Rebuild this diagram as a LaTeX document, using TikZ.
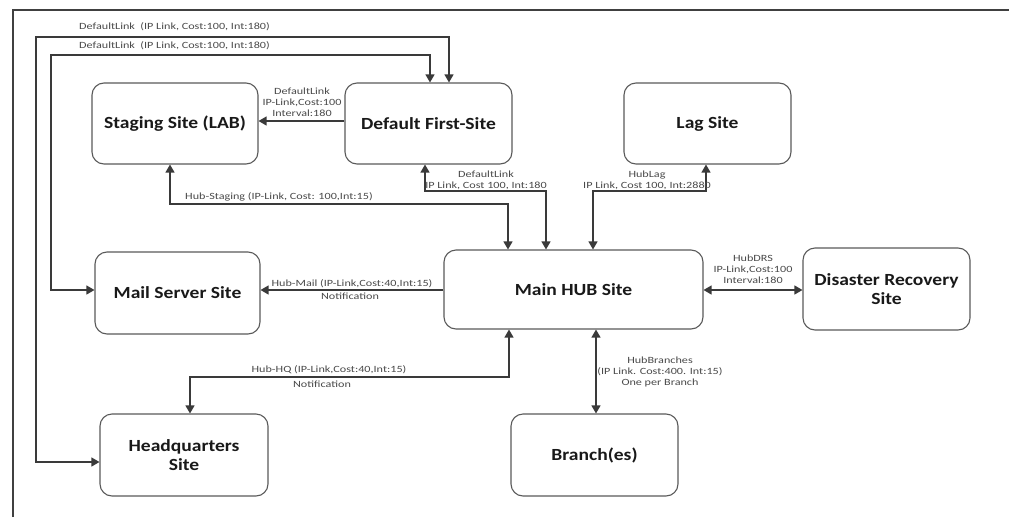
\documentclass[tikz,border=0pt]{standalone}
\usepackage{fontspec}
\setmainfont{Carlito}
\newfontfamily\boxfont[FakeStretch=1.15]{Carlito}
\newfontfamily\smallfont[FakeStretch=1.28]{Carlito}
\usetikzlibrary{arrows.meta}
\definecolor{linec}{HTML}{3A3A3A}
\definecolor{boxc}{HTML}{5A5A5A}
\definecolor{lblc}{HTML}{4A4A4A}
\definecolor{framec}{HTML}{404040}
\tikzset{
  site/.style={draw=boxc, line width=1.1pt, rounded corners=12pt, fill=white,
    minimum width=#1, align=center, font=\boxfont\fontsize{17}{19}\selectfont\bfseries, text=black!90},
  arr/.style={draw=linec, line width=1.2pt, -{Triangle[length=8pt,width=9pt]}},
  arrb/.style={draw=linec, line width=1.2pt, {Triangle[length=8pt,width=9pt]}-{Triangle[length=8pt,width=9pt]}},
  lbl/.style={font=\smallfont\fontsize{9.5}{11}\selectfont, text=lblc, inner sep=0pt, align=center},
}
\begin{document}
\begin{tikzpicture}[x={(1pt,0)}, y={(0,-1pt)}]
\useasboundingbox (0,0) rectangle (1009,517);
\fill[white] (0,0) rectangle (1009,517);
\draw[framec, line width=2pt] (13,517) -- (13,10) -- (1009,10);

\node[site=166pt, minimum height=81pt] (stg) at (175,123.5) {Staging Site (LAB)};
\node[site=167pt, minimum height=81pt] (dfs) at (428.5,123.5) {Default First-Site};
\node[site=167pt, minimum height=81pt] (lag) at (707.5,123.5) {Lag Site};
\node[site=259pt, minimum height=79pt] (hub) at (573.5,289.5) {Main HUB Site};
\node[site=165pt, minimum height=82pt] (mail) at (177.5,293) {Mail Server Site};
\node[site=167pt, minimum height=82pt] (drs) at (886.5,289) {Disaster Recovery\\Site};
\node[site=168pt, minimum height=82pt] (hq) at (184,455) {Headquarters\\Site};
\node[site=167pt, minimum height=82pt] (br) at (594.5,455) {Branch(es)};

% long default links
\draw[arrb] (hq.west |- 0,462) -| (36,37) -| (dfs.north -| 449,0);
\draw[arrb] (mail.west |- 0,290) -| (51,55) -| (dfs.north -| 430,0);
\node[lbl, anchor=west] (l1) at (79,27) {DefaultLink\ \ (IP Link, Cost:100, Int:180)};
\node[lbl, anchor=west] (l2) at (79,46) {DefaultLink\ \ (IP Link, Cost:100, Int:180)};

% default -> staging
\draw[arr] (dfs.west |- 0,121) -- (stg.east |- 0,121);
\node[lbl] (l3) at (302,102) {DefaultLink\\IP-Link,Cost:100\\Interval:180};

% hub - staging
\draw[arrb] (hub.north -| 508,0) |- (170,204) -- (stg.south -| 170,0);
\node[lbl, anchor=west] (l4) at (185,197) {Hub-Staging (IP-Link, Cost: 100,Int:15)};

% default - hub
\draw[arrb] (dfs.south -| 425,0) |- (546,191) -- (hub.north -| 546,0);
\node[lbl] (l5) at (486,180.5) {DefaultLink\\IP Link, Cost 100, Int:180};

% hub - lag
\draw[arrb] (hub.north -| 593,0) |- (706,191) -- (lag.south -| 706,0);
\node[lbl] (l6) at (647,180.5) {HubLag\\IP Link, Cost 100, Int:2880};

% hub - drs
\draw[arrb] (hub.east |- 0,290) -- (drs.west |- 0,290);
\node[lbl] (l7) at (753,269) {HubDRS\\IP-Link,Cost:100\\Interval:180};

% hub - mail
\draw[arr] (hub.west |- 0,290) -- (mail.east |- 0,290);
\node[lbl] (l8) at (352,284) {Hub-Mail (IP-Link,Cost:40,Int:15)};
\node[lbl] (l9) at (350,296.5) {Notification};

% hub - hq
\draw[arrb] (hub.south -| 509,0) |- (190,377) -- (hq.north -| 190,0);
\node[lbl] (l10) at (329,370) {Hub-HQ (IP-Link,Cost:40,Int:15)};
\node[lbl] (l11) at (322,384) {Notification};

% hub - branches
\draw[arrb] (hub.south -| 596,0) -- (br.north -| 596,0);
\node[lbl] (l12) at (660,372) {HubBranches\\(IP Link. Cost:400. Int:15)\\One per Branch};
\end{tikzpicture}
\end{document}
